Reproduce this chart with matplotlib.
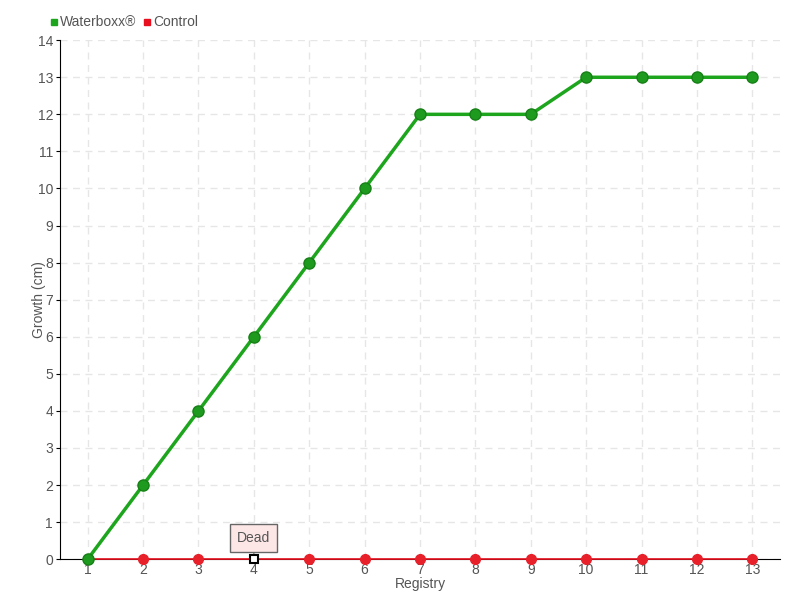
import numpy as np
import matplotlib
matplotlib.use("Agg")
import matplotlib.pyplot as plt

registry = [1, 2, 3, 4, 5, 6, 7, 8, 9, 10, 11, 12, 13]
waterboxx = [0, 2, 4, 6, 8, 10, 12, 12, 12, 13, 13, 13, 13]
control = [0, 0, 0, 0, 0, 0, 0, 0, 0, 0, 0, 0, 0]
dead_idx = 3

plt.rcParams['font.family'] = ['Liberation Sans', 'DejaVu Sans']
txt = '#555555'

fig = plt.figure(figsize=(8, 6), dpi=100)
ax = fig.add_axes([0.075, 0.068, 0.9, 0.865])

ax.plot(registry, control, color='#e8101e', lw=1.2, zorder=3, clip_on=False)
ctrl_x = [x for i, x in enumerate(registry) if i != dead_idx]
ctrl_y = [y for i, y in enumerate(control) if i != dead_idx]
ax.plot(ctrl_x, ctrl_y, 'o', color='#e8202a', ms=7, zorder=4, clip_on=False)
ax.plot(registry[dead_idx], control[dead_idx], 's', color='white', mec='black',
        mew=1.5, ms=6, zorder=5, clip_on=False)

ax.plot(registry, waterboxx, color='#1ea51e', lw=2.5, zorder=6, clip_on=False)
ax.plot(registry, waterboxx, 'o', color='#1e9a1e', mec='#178017', ms=8, zorder=7,
        clip_on=False)

ax.annotate('Dead', xy=(registry[dead_idx], control[dead_idx]), xytext=(0, 15),
            textcoords='offset points', ha='center', va='center', fontsize=10,
            color=txt,
            bbox=dict(boxstyle='square,pad=0.5', fc='#fde6e6', ec='#666666', lw=1),
            arrowprops=dict(arrowstyle='-', color='#666666', lw=0.8, shrinkA=0, shrinkB=4),
            zorder=8)

ax.set_xlim(0.5, 13.5)
ax.set_ylim(0, 14)
ax.set_xticks(registry)
ax.set_yticks(range(0, 15))
ax.tick_params(axis='both', labelsize=10, labelcolor=txt, length=3, color='black')
ax.tick_params(axis='x', length=0, pad=3)
ax.tick_params(axis='y', pad=2)
ax.grid(True, color='#e6e6e6', ls=(0, (5, 4)), lw=1)
ax.spines['top'].set_visible(False)
ax.spines['right'].set_visible(False)
ax.spines['left'].set_color('black')
ax.spines['bottom'].set_color('black')
ax.set_axisbelow(True)

ax.set_xlabel('Registry', fontsize=10, color=txt, labelpad=0)
ax.set_ylabel('Growth (cm)', fontsize=10, color=txt)
ax.yaxis.set_label_coords(-0.02, 0.5)

h1 = plt.Line2D([], [], marker='s', color='#1ea51e', ls='', ms=4)
h2 = plt.Line2D([], [], marker='s', color='#e8101e', ls='', ms=4)
fig.legend([h1, h2], ['Waterboxx®', 'Control'], loc='upper left',
           bbox_to_anchor=(0.047, 0.995), ncol=2, frameon=False, fontsize=10,
           labelcolor=txt, handletextpad=0.1, columnspacing=0.5, handlelength=0.6)

fig.savefig('out.png', dpi=100)
